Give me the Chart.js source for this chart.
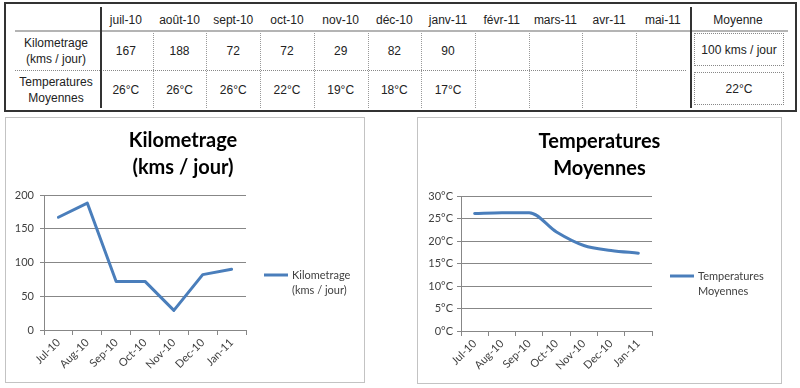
<!DOCTYPE html>
<html>
<head>
<meta charset="utf-8">
<script src="https://cdn.jsdelivr.net/npm/chart.js@4"></script>
<style>
  body { margin: 0; width: 800px; height: 388px; background: #fff; position: relative; overflow: hidden;
         font-family: "Liberation Sans", Arial, sans-serif; font-size: 12px; color: #222; }
  .abs { position: absolute; }
  .cell { position: absolute; display: flex; align-items: center; justify-content: center; text-align: center; line-height: 16px; }
  .box { position: absolute; border: 1px solid #c3c3c3; box-sizing: border-box; background: #fff; }
</style>
</head>
<body>
<div class="abs" style="left:4px;top:2px;width:793px;height:110px;border:2px solid #333;box-sizing:border-box;"></div>
<div id="table"></div>
<div class="box" style="left:5px;top:117px;width:360px;height:266px;">
  <canvas id="kmChart" width="358" height="264"></canvas>
</div>
<div class="box" style="left:417px;top:117px;width:365px;height:267px;">
  <canvas id="tempChart" width="363" height="265"></canvas>
</div>
<script>
// Table data
const tableMonths = ["juil-10", "août-10", "sept-10", "oct-10", "nov-10", "déc-10", "janv-11", "févr-11", "mars-11", "avr-11", "mai-11"];
const rowLabels = [["Kilometrage", "(kms / jour)"], ["Temperatures", "Moyennes"]];

// Chart data
const months = ["Jul-10", "Aug-10", "Sep-10", "Oct-10", "Nov-10", "Dec-10", "Jan-11"];
const kmValues = [167, 188, 72, 72, 29, 82, 90];
const tempValues = [26.1, 26.3, 26.3, 22, 19, 17.9, 17.3];

const avg = arr => arr.reduce((a, b) => a + b, 0) / arr.length;

// Build the table
const table = document.getElementById("table");
function add(cls, style, text) {
  const d = document.createElement("div");
  d.className = cls;
  d.style.cssText = style;
  if (text !== undefined) d.innerHTML = text;
  table.appendChild(d);
}

const col0 = 99, colW = 53.7;
const rowY = [33, 72];
const rowH = 35;

// header
tableMonths.forEach((m, i) => {
  add("cell", `left:${col0 + i * colW}px;top:11px;width:${colW}px;height:18px;`, m);
});
add("cell", "left:691px;top:11px;width:94px;height:18px;", "Moyenne");

// row labels
rowLabels.forEach((lines, r) => {
  add("cell", `left:12px;top:${rowY[r]}px;width:88px;height:${rowH}px;`, lines.join("<br>"));
});

// values
tableMonths.forEach((m, i) => {
  if (i < kmValues.length) {
    add("cell", `left:${col0 + i * colW}px;top:${rowY[0]}px;width:${colW}px;height:${rowH}px;`, kmValues[i]);
    add("cell", `left:${col0 + i * colW}px;top:${rowY[1]}px;width:${colW}px;height:${rowH}px;`, Math.round(tempValues[i]) + "°C");
  }
});

// averages
add("cell", `left:694px;top:${rowY[0]}px;width:90px;height:33px;border:1px dotted #888;box-sizing:border-box;`,
    Math.round(avg(kmValues)) + " kms / jour");
add("cell", `left:694px;top:${rowY[1]}px;width:90px;height:33px;border:1px dotted #888;box-sizing:border-box;`,
    Math.round(avg(tempValues)) + "°C");

// lines
add("abs", "left:15px;top:30px;width:773px;height:2px;background:#b4b4b4;");
add("abs", "left:15px;top:70px;width:671px;height:0;border-top:1px dotted #888;");
add("abs", "left:100px;top:7px;width:2px;height:101px;background:#333;");
add("abs", "left:690px;top:7px;width:2px;height:101px;background:#333;");
for (let i = 1; i < tableMonths.length; i++) {
  add("abs", `left:${Math.round(col0 + i * colW)}px;top:33px;width:0;height:75px;border-left:1px dotted #999;`);
}

// Charts
const font = "Lato, 'Open Sans', sans-serif";
const gridColor = "#878787";
const lineColor = "#4A7EBB";

// title centred on the whole canvas + legend at the right of the plot
const decorations = {
  id: "decorations",
  afterDraw(chart, args, opts) {
    const ctx = chart.ctx;
    const a = chart.chartArea;
    ctx.save();
    ctx.fillStyle = "#000";
    ctx.font = "bold 20px " + font;
    ctx.textAlign = "center";
    ctx.textBaseline = "middle";
    opts.title.forEach((t, i) => ctx.fillText(t, chart.width / 2 + opts.titleDx, opts.titleY + i * 27));

    const x = a.right + 18;
    const y = (a.top + a.bottom) / 2 + 12.5;
    ctx.strokeStyle = lineColor;
    ctx.lineWidth = 3;
    ctx.beginPath();
    ctx.moveTo(x, y);
    ctx.lineTo(x + 24, y);
    ctx.stroke();
    ctx.fillStyle = "#404040";
    ctx.font = "11px " + font;
    ctx.textAlign = "left";
    opts.legend.forEach((t, i) => ctx.fillText(t, x + 28, y + i * 15));
    ctx.restore();
  }
};

function makeChart(id, values, title, yOpts, yWidth, pad, titleY, titleDx, smooth) {
  return new Chart(document.getElementById(id).getContext("2d"), {
    type: "line",
    data: {
      labels: months,
      datasets: [{
        label: title.join(" "),
        data: values,
        borderColor: lineColor,
        borderWidth: 3,
        pointRadius: 0,
        cubicInterpolationMode: smooth ? "monotone" : "default",
        tension: 0,
        borderJoinStyle: "round",
        borderCapStyle: "round"
      }]
    },
    options: {
      responsive: false,
      animation: false,
      layout: { padding: pad },
      plugins: {
        legend: { display: false },
        tooltip: { enabled: false },
        title: { display: false },
        decorations: { title: title, legend: title, titleY: titleY, titleDx: titleDx }
      },
      scales: {
        x: {
          offset: true,
          grid: { offset: true, drawOnChartArea: false, drawTicks: true, tickLength: 5, color: gridColor },
          border: { color: gridColor },
          ticks: { autoSkip: false, maxRotation: 45, minRotation: 45, padding: 1, color: "#404040", font: { family: font, size: 11 } },
          afterFit: s => { s.height = 52; }
        },
        y: Object.assign({
          grid: { color: gridColor, tickLength: 4, drawTicks: true },
          border: { color: gridColor },
          afterFit: s => { s.width = yWidth; }
        }, yOpts)
      }
    },
    plugins: [decorations]
  });
}

makeChart("kmChart", kmValues, ["Kilometrage", "(kms / jour)"],
  { min: 0, max: 200, ticks: { stepSize: 50, padding: 6, color: "#404040", font: { family: font, size: 11 } } },
  38, { left: 0, right: 118, top: 77, bottom: 0 }, 23, -2, false);

makeChart("tempChart", tempValues, ["Temperatures", "Moyennes"],
  { min: 0, max: 30, ticks: { stepSize: 5, padding: 4, color: "#404040", font: { family: font, size: 11 },
    callback: v => v + "°C" } },
  43, { left: 0, right: 129, top: 78, bottom: 0 }, 24, 0, true);
</script>
</body>
</html>
